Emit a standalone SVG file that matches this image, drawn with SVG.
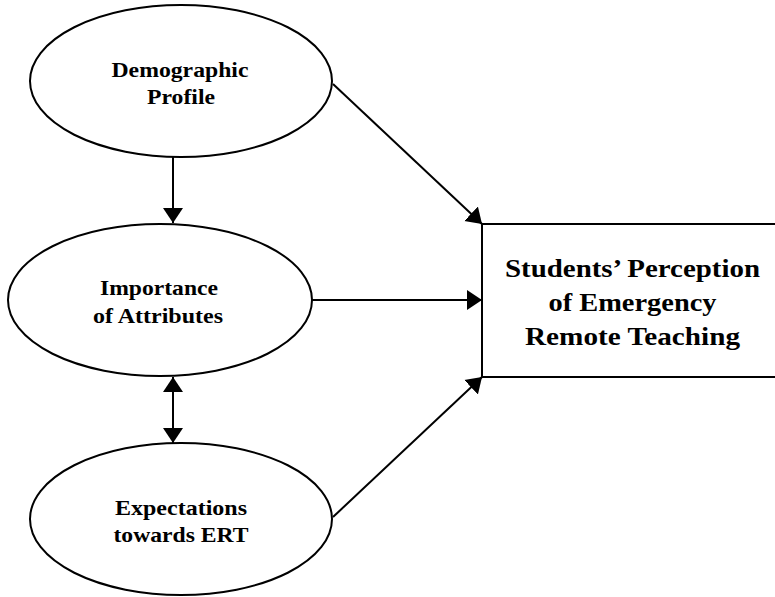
<svg xmlns="http://www.w3.org/2000/svg" width="775" height="597" viewBox="0 0 775 597">
<style>
.node{fill:#fff;stroke:#000;stroke-width:2}
.lbl{font-family:"Liberation Serif","Times New Roman",serif;font-weight:bold;font-size:21px;fill:#000;text-anchor:middle}
.big{font-size:25px}
.edge{stroke:#000;stroke-width:2;fill:none}
</style>
<defs>
<marker id="ah" markerUnits="userSpaceOnUse" markerWidth="16" markerHeight="22" viewBox="0 0 16 22" refX="15" refY="11" orient="auto-start-reverse">
<path d="M0,1 L15,11 L0,21 Z" fill="#000"/>
</marker>
</defs>
<rect width="775" height="597" fill="#fff"/>
<g id="connectors">
<line class="edge" x1="173" y1="157" x2="173" y2="223" marker-end="url(#ah)"/>
<line class="edge" x1="173" y1="377" x2="173" y2="443" marker-start="url(#ah)" marker-end="url(#ah)"/>
<line class="edge" x1="333" y1="84" x2="482" y2="224" marker-end="url(#ah)"/>
<line class="edge" x1="312" y1="300" x2="482" y2="300" marker-end="url(#ah)"/>
<line class="edge" x1="333" y1="517" x2="482" y2="377" marker-end="url(#ah)"/>
</g>
<g id="demographic">
<ellipse class="node" cx="181" cy="81" rx="151" ry="76"/>
<text class="lbl" x="180" y="77" textLength="137" lengthAdjust="spacingAndGlyphs">Demographic</text>
<text class="lbl" x="181" y="104" textLength="68" lengthAdjust="spacingAndGlyphs">Profile</text>
</g>
<g id="importance">
<ellipse class="node" cx="160" cy="300" rx="152" ry="76"/>
<text class="lbl" x="159" y="295" textLength="118" lengthAdjust="spacingAndGlyphs">Importance</text>
<text class="lbl" x="158" y="323" textLength="130" lengthAdjust="spacingAndGlyphs">of Attributes</text>
</g>
<g id="expectations">
<ellipse class="node" cx="181" cy="519" rx="151" ry="76"/>
<text class="lbl" x="181" y="515" textLength="132" lengthAdjust="spacingAndGlyphs">Expectations</text>
<text class="lbl" x="181" y="542" textLength="135" lengthAdjust="spacingAndGlyphs">towards ERT</text>
</g>
<g id="perception">
<rect class="node" x="482" y="224" width="310" height="153"/>
<text class="lbl big" x="632.5" y="277" textLength="255" lengthAdjust="spacingAndGlyphs">Students’ Perception</text>
<text class="lbl big" x="632.5" y="311" textLength="168" lengthAdjust="spacingAndGlyphs">of Emergency</text>
<text class="lbl big" x="632.5" y="345" textLength="215" lengthAdjust="spacingAndGlyphs">Remote Teaching</text>
</g>
</svg>
